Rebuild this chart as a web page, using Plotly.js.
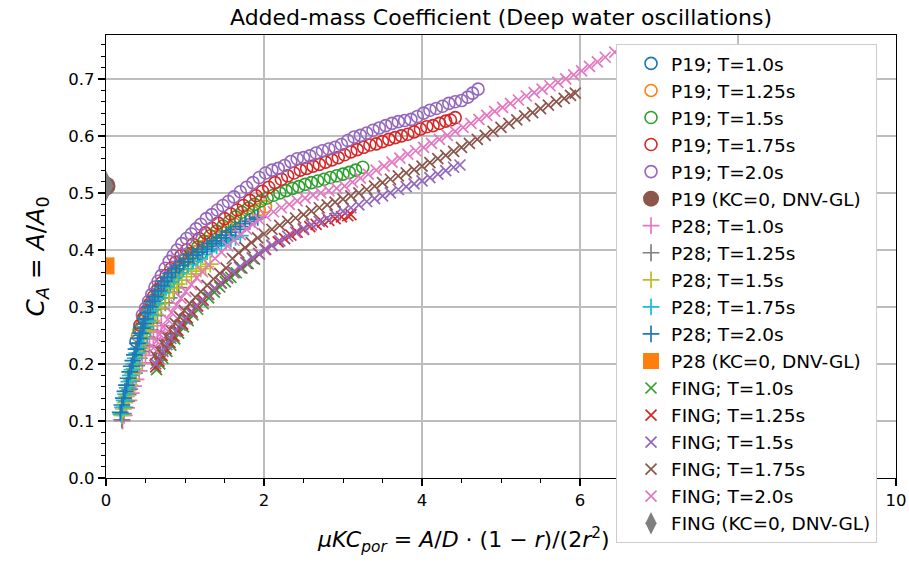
<!DOCTYPE html>
<html>
<head>
<meta charset="utf-8">
<script src="https://cdn.plot.ly/plotly-3.0.1.min.js"></script>
<style>html,body{margin:0;padding:0;background:#fff;}#chart{width:909px;height:565px;}</style>
</head>
<body>
<div id="chart"></div>
<script>
// ---------- P19 (open circles) ----------
var p19_T10_x = [0.38,0.44,0.50,0.56,0.62,0.68,0.75,0.82,0.89,0.96,1.04,1.12,1.20,1.28,1.36,1.44,1.52];
var p19_T10_y = [0.240,0.260,0.280,0.296,0.310,0.322,0.335,0.347,0.358,0.367,0.377,0.386,0.394,0.402,0.410,0.417,0.424];

var p19_T125_x = [0.40,0.46,0.52,0.58,0.64,0.70,0.77,0.84,0.91,0.98,1.06,1.14,1.22,1.30,1.38,1.46,1.54,1.62,1.70,1.78,1.86,1.94,2.02];
var p19_T125_y = [0.250,0.270,0.290,0.305,0.318,0.330,0.343,0.355,0.366,0.376,0.387,0.397,0.406,0.415,0.423,0.431,0.439,0.446,0.453,0.460,0.466,0.471,0.476];

var p19_T15_x = [0.42,0.48,0.54,0.60,0.66,0.72,0.79,0.86,0.93,1.00,1.08,1.16,1.24,1.32,1.40,1.48,1.56,1.64,1.72,1.80,1.88,1.96,2.04,2.12,2.20,2.28,2.36,2.44,2.52,2.60,2.68,2.76,2.84,2.92,3.00,3.08,3.16,3.25];
var p19_T15_y = [0.260,0.280,0.297,0.312,0.325,0.337,0.350,0.362,0.373,0.383,0.394,0.405,0.415,0.425,0.433,0.442,0.450,0.458,0.466,0.473,0.480,0.486,0.491,0.496,0.500,0.504,0.508,0.511,0.515,0.518,0.521,0.524,0.527,0.530,0.533,0.536,0.540,0.545];

var p19_T175_x = [0.43,0.47,0.51,0.55,0.60,0.65,0.70,0.76,0.82,0.88,0.95,1.02,1.10,1.18,1.26,1.34,1.42,1.50,1.58,1.66,1.74,1.82,1.90,1.98,2.06,2.14,2.22,2.30,2.38,2.46,2.54,2.62,2.70,2.78,2.86,2.94,3.02,3.10,3.18,3.26,3.34,3.42,3.50,3.58,3.66,3.74,3.82,3.90,3.98,4.06,4.14,4.22,4.30,4.36,4.42];
var p19_T175_y = [0.268,0.280,0.293,0.305,0.318,0.330,0.342,0.355,0.367,0.378,0.390,0.400,0.410,0.420,0.430,0.438,0.447,0.455,0.463,0.470,0.478,0.487,0.495,0.503,0.510,0.518,0.524,0.530,0.535,0.540,0.543,0.547,0.550,0.554,0.558,0.562,0.567,0.572,0.576,0.580,0.584,0.586,0.590,0.594,0.597,0.600,0.603,0.607,0.612,0.616,0.618,0.622,0.626,0.628,0.632];

var p19_T20_x = [0.46,0.50,0.54,0.58,0.62,0.66,0.70,0.75,0.80,0.85,0.90,0.96,1.02,1.08,1.14,1.20,1.27,1.34,1.41,1.48,1.55,1.62,1.70,1.78,1.86,1.94,2.02,2.10,2.18,2.26,2.34,2.42,2.50,2.58,2.66,2.74,2.82,2.90,2.98,3.06,3.14,3.22,3.30,3.38,3.46,3.54,3.62,3.70,3.78,3.86,3.94,4.02,4.10,4.18,4.26,4.34,4.42,4.50,4.58,4.64,4.71];
var p19_T20_y = [0.286,0.298,0.310,0.322,0.335,0.345,0.355,0.368,0.380,0.390,0.400,0.411,0.420,0.428,0.437,0.445,0.455,0.462,0.470,0.478,0.485,0.493,0.502,0.510,0.518,0.527,0.535,0.540,0.543,0.548,0.555,0.560,0.562,0.565,0.570,0.574,0.577,0.580,0.585,0.592,0.598,0.601,0.605,0.610,0.614,0.618,0.622,0.625,0.627,0.629,0.634,0.640,0.645,0.648,0.652,0.657,0.660,0.662,0.668,0.675,0.682];

var p19_kc0_x = [0];
var p19_kc0_y = [0.512];

// ---------- P28 (plus markers) ----------
var p28_T10_x = [0.21,0.23,0.26,0.29,0.32,0.35,0.38,0.42,0.46,0.50,0.55,0.60,0.65,0.70];
var p28_T10_y = [0.100,0.110,0.123,0.136,0.149,0.161,0.173,0.188,0.202,0.215,0.230,0.244,0.256,0.267];

var p28_T125_x = [0.20,0.22,0.24,0.26,0.28,0.30,0.33,0.36,0.39,0.42,0.45,0.48,0.52,0.56,0.60,0.65,0.70,0.75,0.80,0.86,0.92];
var p28_T125_y = [0.102,0.113,0.124,0.135,0.146,0.156,0.170,0.184,0.197,0.210,0.222,0.233,0.247,0.260,0.272,0.285,0.297,0.307,0.316,0.326,0.334];

var p28_T15_x = [0.20,0.22,0.24,0.26,0.28,0.30,0.32,0.34,0.36,0.38,0.40,0.42,0.44,0.46,0.49,0.52,0.55,0.58,0.62,0.66,0.70,0.75,0.80,0.85,0.90,0.96,1.02,1.08,1.14,1.20,1.26,1.32];
var p28_T15_y = [0.110,0.121,0.132,0.143,0.153,0.163,0.173,0.183,0.192,0.201,0.210,0.219,0.227,0.235,0.246,0.257,0.267,0.276,0.287,0.297,0.306,0.316,0.325,0.333,0.340,0.347,0.353,0.358,0.363,0.367,0.371,0.375];

var p28_T175_x = [0.19,0.21,0.23,0.25,0.27,0.29,0.31,0.33,0.35,0.37,0.39,0.41,0.43,0.45,0.47,0.50,0.53,0.56,0.59,0.63,0.67,0.71,0.76,0.81,0.86,0.92,0.98,1.04,1.10,1.16,1.22,1.28,1.34,1.40,1.46,1.52,1.58,1.64,1.70];
var p28_T175_y = [0.112,0.124,0.136,0.147,0.158,0.169,0.180,0.190,0.200,0.210,0.219,0.228,0.237,0.245,0.253,0.265,0.276,0.286,0.295,0.306,0.316,0.325,0.335,0.344,0.352,0.360,0.367,0.374,0.380,0.386,0.392,0.397,0.402,0.407,0.412,0.416,0.419,0.422,0.425];

var p28_T20_x = [0.18,0.20,0.22,0.24,0.26,0.28,0.30,0.32,0.34,0.36,0.38,0.40,0.42,0.44,0.46,0.48,0.50,0.53,0.56,0.59,0.62,0.66,0.70,0.74,0.78,0.83,0.88,0.93,0.98,1.04,1.10,1.16,1.22,1.28,1.34,1.40,1.46,1.52,1.58,1.64,1.70,1.76,1.82,1.88,1.92];
var p28_T20_y = [0.115,0.128,0.140,0.152,0.163,0.175,0.186,0.196,0.206,0.216,0.226,0.236,0.245,0.254,0.263,0.271,0.279,0.290,0.300,0.310,0.318,0.328,0.337,0.345,0.352,0.360,0.367,0.373,0.379,0.385,0.391,0.396,0.401,0.406,0.411,0.416,0.421,0.426,0.431,0.436,0.441,0.446,0.450,0.454,0.457];

var p28_kc0_x = [0];
var p28_kc0_y = [0.372];

// ---------- FING (x markers) ----------
var fing_T10_x = [0.64,0.68,0.72,0.77,0.82,0.87,0.92,0.98,1.04,1.10,1.16,1.23,1.30,1.37,1.44,1.51,1.58,1.65,1.72,1.80,1.88];
var fing_T10_y = [0.190,0.200,0.210,0.222,0.233,0.244,0.254,0.265,0.276,0.286,0.296,0.306,0.316,0.326,0.335,0.344,0.352,0.360,0.368,0.376,0.384];

var fing_T125_x = [0.63,0.67,0.71,0.76,0.81,0.86,0.91,0.97,1.03,1.09,1.16,1.23,1.30,1.38,1.46,1.54,1.62,1.70,1.78,1.86,1.94,2.02,2.10,2.18,2.26,2.34,2.42,2.50,2.58,2.66,2.74,2.82,2.90,2.98,3.06,3.10];
var fing_T125_y = [0.195,0.205,0.215,0.227,0.238,0.249,0.259,0.270,0.281,0.291,0.302,0.312,0.322,0.332,0.342,0.351,0.360,0.369,0.377,0.385,0.393,0.401,0.408,0.414,0.420,0.426,0.431,0.436,0.441,0.445,0.449,0.452,0.455,0.458,0.460,0.462];

var fing_T15_x = [0.63,0.67,0.72,0.77,0.82,0.88,0.94,1.00,1.07,1.14,1.21,1.29,1.37,1.45,1.53,1.61,1.69,1.77,1.85,1.93,2.01,2.10,2.20,2.30,2.40,2.50,2.60,2.70,2.80,2.90,3.00,3.10,3.20,3.30,3.40,3.50,3.60,3.70,3.80,3.90,4.00,4.10,4.20,4.30,4.40,4.48];
var fing_T15_y = [0.200,0.210,0.222,0.234,0.245,0.257,0.268,0.279,0.290,0.301,0.311,0.322,0.332,0.342,0.352,0.361,0.370,0.378,0.386,0.394,0.401,0.408,0.416,0.424,0.431,0.438,0.444,0.450,0.456,0.462,0.468,0.474,0.479,0.485,0.490,0.495,0.500,0.506,0.511,0.516,0.521,0.527,0.533,0.539,0.545,0.549];

var fing_T175_x = [0.62,0.66,0.71,0.76,0.81,0.87,0.93,0.99,1.06,1.13,1.20,1.28,1.36,1.44,1.52,1.60,1.68,1.76,1.84,1.92,2.00,2.10,2.20,2.30,2.40,2.50,2.60,2.70,2.80,2.90,3.00,3.10,3.20,3.30,3.40,3.50,3.60,3.70,3.80,3.90,4.00,4.10,4.20,4.30,4.40,4.50,4.60,4.70,4.80,4.90,5.00,5.10,5.20,5.30,5.40,5.50,5.60,5.70,5.80,5.88,5.94];
var fing_T175_y = [0.215,0.225,0.237,0.249,0.260,0.272,0.283,0.294,0.306,0.317,0.327,0.338,0.349,0.359,0.368,0.385,0.395,0.404,0.413,0.421,0.428,0.436,0.443,0.450,0.456,0.462,0.468,0.474,0.479,0.484,0.489,0.495,0.500,0.506,0.512,0.518,0.524,0.530,0.535,0.541,0.547,0.553,0.560,0.566,0.573,0.580,0.587,0.594,0.601,0.608,0.615,0.622,0.628,0.635,0.641,0.648,0.654,0.660,0.666,0.671,0.675];

var fing_T20_x = [0.60,0.64,0.68,0.73,0.78,0.83,0.89,0.95,1.01,1.08,1.15,1.22,1.30,1.38,1.46,1.54,1.62,1.70,1.78,1.86,1.94,2.02,2.12,2.22,2.32,2.42,2.52,2.62,2.72,2.82,2.92,3.02,3.12,3.22,3.32,3.42,3.52,3.62,3.72,3.82,3.92,4.02,4.12,4.22,4.32,4.42,4.52,4.62,4.72,4.82,4.92,5.02,5.12,5.22,5.32,5.42,5.52,5.62,5.72,5.82,5.92,6.02,6.12,6.22,6.32,6.44];
var fing_T20_y = [0.228,0.240,0.252,0.265,0.278,0.290,0.303,0.315,0.327,0.339,0.351,0.362,0.374,0.385,0.396,0.407,0.417,0.427,0.436,0.445,0.453,0.460,0.467,0.474,0.480,0.486,0.491,0.496,0.500,0.504,0.508,0.512,0.519,0.526,0.533,0.540,0.547,0.554,0.561,0.568,0.574,0.580,0.587,0.594,0.601,0.608,0.615,0.622,0.629,0.636,0.643,0.650,0.657,0.663,0.670,0.676,0.682,0.688,0.694,0.700,0.707,0.714,0.722,0.730,0.738,0.747];

var fing_kc0_x = [0];
var fing_kc0_y = [0.512];

var seriesNames = [
  "P19; T=1.0s","P19; T=1.25s","P19; T=1.5s","P19; T=1.75s","P19; T=2.0s","P19 (KC=0, DNV-GL)",
  "P28; T=1.0s","P28; T=1.25s","P28; T=1.5s","P28; T=1.75s","P28; T=2.0s","P28 (KC=0, DNV-GL)",
  "FING; T=1.0s","FING; T=1.25s","FING; T=1.5s","FING; T=1.75s","FING; T=2.0s","FING (KC=0, DNV-GL)"
];
var xTitle = "<i>μKC<sub>por</sub></i> = <i>A</i>/<i>D</i> · (1 − <i>r</i>)/(2<i>r</i><sup>2</sup>)";
var yTitle = "<i>C<sub>A</sub></i> = <i>A</i>/<i>A</i><sub>0</sub>";
var chartTitle = "Added-mass Coefficient (Deep water oscillations)";

var C = {blue:"#1f77b4",orange:"#ff7f0e",green:"#2ca02c",red:"#d62728",purple:"#9467bd",
         brown:"#8c564b",pink:"#e377c2",gray:"#7f7f7f",olive:"#bcbd22",cyan:"#17becf"};

function circ(x,y,name,col){return {x:x,y:y,name:name,type:"scatter",mode:"markers",
  marker:{symbol:"circle-open",size:12,color:col,line:{width:1.6,color:col}}};}
function plus(x,y,name,col){return {x:x,y:y,name:name,type:"scatter",mode:"markers",
  marker:{symbol:"cross-thin-open",size:12,color:col,line:{width:1.7,color:col}}};}
function xm(x,y,name,col){return {x:x,y:y,name:name,type:"scatter",mode:"markers",
  marker:{symbol:"x-thin-open",size:11,color:col,line:{width:1.7,color:col}}};}
function solid(x,y,name,col,sym,size){return {x:x,y:y,name:name,type:"scatter",mode:"markers",
  marker:{symbol:sym,size:size,color:col,line:{width:0}}};}

var traces = [
  circ(p19_T10_x,p19_T10_y,seriesNames[0],C.blue),
  circ(p19_T125_x,p19_T125_y,seriesNames[1],C.orange),
  circ(p19_T15_x,p19_T15_y,seriesNames[2],C.green),
  circ(p19_T175_x,p19_T175_y,seriesNames[3],C.red),
  circ(p19_T20_x,p19_T20_y,seriesNames[4],C.purple),
  solid(p19_kc0_x,p19_kc0_y,seriesNames[5],C.brown,"circle",19),
  plus(p28_T10_x,p28_T10_y,seriesNames[6],C.pink),
  plus(p28_T125_x,p28_T125_y,seriesNames[7],C.gray),
  plus(p28_T15_x,p28_T15_y,seriesNames[8],C.olive),
  plus(p28_T175_x,p28_T175_y,seriesNames[9],C.cyan),
  plus(p28_T20_x,p28_T20_y,seriesNames[10],C.blue),
  solid(p28_kc0_x,p28_kc0_y,seriesNames[11],C.orange,"square",17),
  xm(fing_T10_x,fing_T10_y,seriesNames[12],C.green),
  xm(fing_T125_x,fing_T125_y,seriesNames[13],C.red),
  xm(fing_T15_x,fing_T15_y,seriesNames[14],C.purple),
  xm(fing_T175_x,fing_T175_y,seriesNames[15],C.brown),
  xm(fing_T20_x,fing_T20_y,seriesNames[16],C.pink),
  solid(fing_kc0_x,fing_kc0_y,seriesNames[17],C.gray,"diamond-tall",22)
];
traces.forEach(function(t,i){ t.legendgroup = "g"+i; });

var F = "DejaVu Sans, Verdana, sans-serif";
var layout = {
  width:909, height:565,
  margin:{l:106, r:13, t:35, b:87, autoexpand:false},
  paper_bgcolor:"#fff", plot_bgcolor:"#fff",
  font:{family:F, size:16, color:"#000"},
  title:{text:chartTitle, font:{family:F,size:22,color:"#000"},
         x:0.5, xref:"paper", y:0.969, yref:"container", yanchor:"middle"},
  xaxis:{range:[0,10], dtick:2, tick0:0, ticks:"outside", ticklen:7, tickwidth:1.2, tickcolor:"#000",
         showline:true, mirror:true, linecolor:"#000", linewidth:1.2,
         showgrid:true, gridcolor:"#bdbdbd", gridwidth:1.4, zeroline:false,
         tickfont:{family:F,size:16.5,color:"#000"},
         minor:{dtick:0.5, ticks:"outside", ticklen:4, tickwidth:1, tickcolor:"#000", showgrid:false}},
  yaxis:{range:[0,0.777], dtick:0.1, tick0:0, tickformat:".1f", ticks:"outside", ticklen:7, tickwidth:1.2, tickcolor:"#000",
         showline:true, mirror:true, linecolor:"#000", linewidth:1.2,
         showgrid:true, gridcolor:"#bdbdbd", gridwidth:1.4, zeroline:false,
         tickfont:{family:F,size:16.5,color:"#000"},
         minor:{dtick:0.02, ticks:"outside", ticklen:4, tickwidth:1, tickcolor:"#000", showgrid:false},
         title:{text:yTitle, font:{family:F,size:25,color:"#000"}, standoff:16}},
  annotations:[{text:xTitle, xref:"paper", yref:"paper", x:0.64, xanchor:"right",
                y:-0.14, yanchor:"middle", showarrow:false, font:{family:F,size:22,color:"#000"}}],
  legend:{x:0.6456, xanchor:"left", y:0.98, yanchor:"top", bgcolor:"#ffffff",
          bordercolor:"#cccccc", borderwidth:1, font:{family:F,size:18.5,color:"#000"},
          tracegroupgap:7, traceorder:"normal", indentation:14, maxheight:540},
  showlegend:true
};

Plotly.newPlot("chart", traces, layout, {displayModeBar:false, staticPlot:true});
</script>
</body>
</html>
